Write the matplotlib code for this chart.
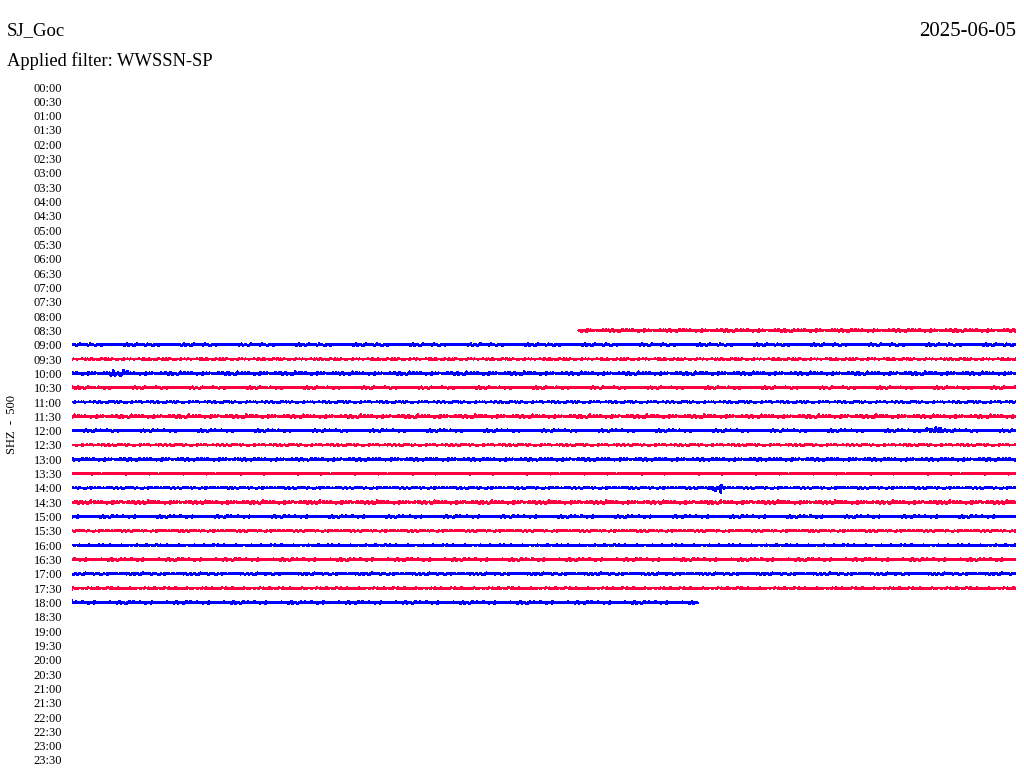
import matplotlib
matplotlib.use("Agg")
import matplotlib.pyplot as plt
import numpy as np

station = "SJ_Goc"
date_text = "2025-06-05"
filter_text = "Applied filter: WWSSN-SP"
channel_text = "SHZ  -  500"

row_labels = [f"{h:02d}:{m:02d}" for h in range(24) for m in (0, 30)]

# rows that carry data (label, start minute, end minute, noise amplitude in px)
trace_rows = ["08:30", "09:00", "09:30", "10:00", "10:30", "11:00", "11:30",
              "12:00", "12:30", "13:00", "13:30", "14:00", "14:30", "15:00",
              "15:30", "16:00", "16:30", "17:00", "17:30", "18:00"]
trace_start = [16.1, 0, 0, 0, 0, 0, 0, 0, 0, 0, 0, 0, 0, 0, 0, 0, 0, 0, 0, 0]
trace_end = [30, 30, 30, 30, 30, 30, 30, 30, 30, 30, 30, 30, 30, 30, 30, 30,
             30, 30, 30, 19.9]
trace_amp = [1.5, 1.2, 0.7, 1.6, 1.1, 0.7, 1.6, 1.1, 0.7, 1.4, 0.7, 0.7,
             1.6, 1.2, 0.7, 0.7, 1.4, 1.1, 0.8, 1.4]

# local events (row label, minute, amplitude in px, duration in minutes)
event_rows = ["10:00", "12:00", "14:00"]
event_min = [1.5, 27.4, 20.5]
event_amp = [2.0, 3.4, 3.0]
event_len = [0.6, 0.5, 0.45]

# hand-typed wiggle shape used to draw the noise texture
wiggle = [0.1, -0.3, 0.2, 0.0, -0.1, 0.6, -0.2, 0.1, -0.9, 0.3, 0.0, -0.2,
          0.4, -0.1, 0.1, 1.0, -0.4, 0.2, -0.1, 0.0, 0.3, -0.6, 0.1, -0.2,
          0.2, 0.0, -0.3, 0.7, -0.1, 0.1, -0.2, 0.4, -1.0, 0.2, 0.0, 0.1,
          -0.1, 0.3, -0.4, 0.1, 0.8, -0.2, 0.0, 0.2, -0.3, 0.1, -0.7, 0.3,
          0.0, -0.1, 0.2, -0.2, 0.5, -0.1, 0.1, -0.8, 0.2, 0.0, 0.1, -0.3,
          0.9, -0.2, 0.1, 0.0, -0.4, 0.2, -0.1, 0.3, -0.5, 0.1, 0.0, 0.6,
          -0.2, 0.1, -0.1, 0.2, -0.6, 0.0, 0.4, -0.1, 0.1, -0.3, 0.2, 0.7,
          -0.2, 0.0, 0.1, -0.9, 0.3, -0.1, 0.2, 0.0, -0.2, 0.5, -0.1, 0.1, -0.4]

blue = "#0000ff"
red = "#ff0040"
font = "Liberation Serif"

W, H = 1024, 780
fig = plt.figure(figsize=(W / 100, H / 100), dpi=100)
fig.patch.set_facecolor("white")

row_px = (760 - 87) / 47.0
top_px = 87 - 0.5 * row_px
bot_px = 760 + 0.5 * row_px
ax = fig.add_axes([72 / W, 1 - bot_px / H, 944 / W, (bot_px - top_px) / H])
ax.set_xlim(0, 30)
ax.set_ylim(47.5, -0.5)

wig = np.array(wiggle, dtype=float)
nw = len(wig)
npts = 1600
for r, (lab, s, e, a) in enumerate(zip(trace_rows, trace_start, trace_end, trace_amp)):
    ri = row_labels.index(lab)
    color = blue if ri % 2 == 0 else red
    x = np.linspace(0, 30, npts)
    x = x[(x >= s) & (x <= e)]
    idx = (np.arange(len(x)) * 31 + r * 17) % nw
    y = wig[idx] * a / row_px
    for el, em, ea, eln in zip(event_rows, event_min, event_amp, event_len):
        if el == lab:
            m = np.abs(x - em) < eln / 2
            y[m] = wig[idx[m]] * ea * 1.5 / row_px
    ax.plot(x, ri + y, color=color, lw=1.2, antialiased=False)

ax.set_yticks(range(48))
ax.set_yticklabels(row_labels, fontfamily=font, fontsize=9)
ax.tick_params(axis="y", length=0, pad=7)
ax.set_xticks([])
for sp in ax.spines.values():
    sp.set_visible(False)

fig.text(7 / W, 1 - 31 / H, station, fontfamily=font, fontsize=13.5,
         ha="left", va="center")
fig.text(1016 / W, 1 - 31 / H, date_text, fontfamily=font, fontsize=15,
         ha="right", va="center")
fig.text(7 / W, 1 - 61 / H, filter_text, fontfamily=font, fontsize=13.3,
         ha="left", va="center")
fig.text(12 / W, 1 - 425 / H, channel_text, fontfamily=font, fontsize=9,
         rotation=90, ha="center", va="center")

fig.savefig("out.png", dpi=100, facecolor="white")
